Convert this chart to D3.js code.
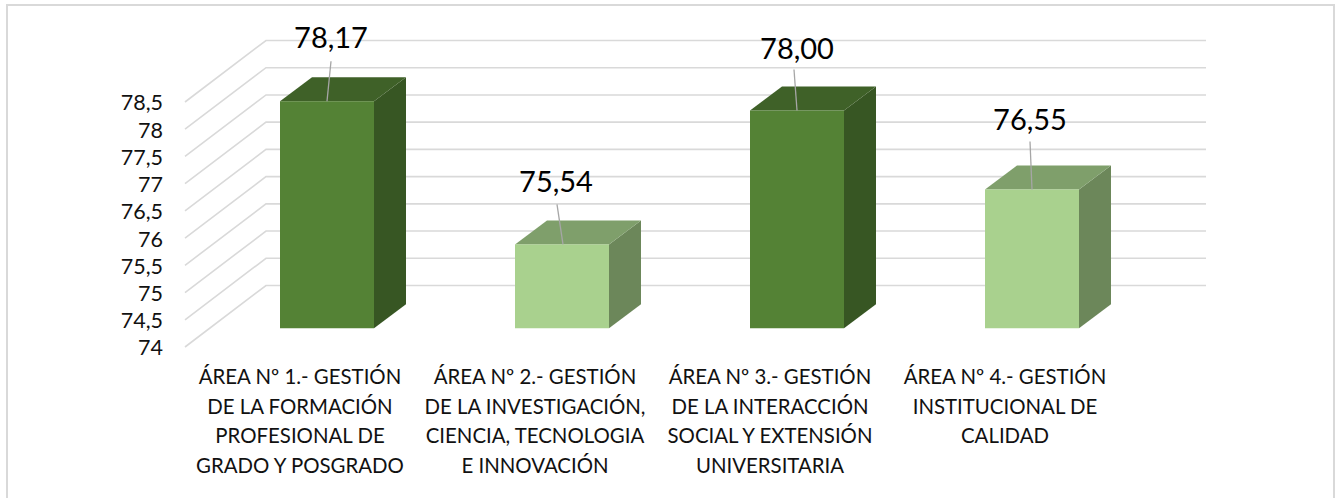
<!DOCTYPE html>
<html>
<head>
<meta charset="utf-8">
<script src="https://cdnjs.cloudflare.com/ajax/libs/d3/7.8.5/d3.min.js"></script>
<style>
  html, body { margin: 0; padding: 0; background: #fff; }
  svg { display: block; font-family: Lato, "Open Sans", sans-serif; }
  .grid { fill: none; stroke: #d9d9d9; stroke-width: 1.6; }
  .frame { fill: none; stroke: #d9d9d9; stroke-width: 2; }
  .leader { stroke: #a6a6a6; stroke-width: 1.3; }
  .val { font-size: 29px; fill: #000; text-anchor: middle; }
  .cat { font-size: 20.4px; fill: #111; text-anchor: middle; }
  .y-axis text { font-family: Lato, "Open Sans", sans-serif; font-size: 21.5px; fill: #111; }
</style>
</head>
<body>
<svg id="chart" width="1342" height="498"></svg>
<script>
// values
const categories = ['area1', 'area2', 'area3', 'area4'];
const values = [78.17, 75.54, 78.00, 76.55];
const valueLabels = ['78,17', '75,54', '78,00', '76,55'];
const seriesTone = ['dark', 'light', 'dark', 'light'];
const yTicks = [74, 74.5, 75, 75.5, 76, 76.5, 77, 77.5, 78, 78.5];
const catLines = [
  ['ÁREA Nº 1.- GESTIÓN', 'DE LA FORMACIÓN', 'PROFESIONAL DE', 'GRADO Y POSGRADO'],
  ['ÁREA Nº 2.- GESTIÓN', 'DE LA INVESTIGACIÓN,', 'CIENCIA, TECNOLOGIA', 'E INNOVACIÓN'],
  ['ÁREA Nº 3.- GESTIÓN', 'DE LA INTERACCIÓN', 'SOCIAL Y EXTENSIÓN', 'UNIVERSITARIA'],
  ['ÁREA Nº 4.- GESTIÓN', 'INSTITUCIONAL DE', 'CALIDAD']
];

// fake 3d: the floor and the bars are sheared by these offsets
const floorDx = 81, floorDy = -61.5;
const barDx = 32, barDy = -24;
const tones = {
  dark:  { front: '#548235', top: '#3f6128', side: '#375623' },
  light: { front: '#a9d18e', top: '#7f9f6b', side: '#6c875a' }
};
// manually moved data labels: leader start/end relative to bar front top-left
const leaders = [
  { x1: 47, x2: 51, y2: -40, tx: 51, ty: -53 },
  { x1: 48, x2: 42, y2: -40, tx: 41, ty: -52 },
  { x1: 47, x2: 44, y2: -41, tx: 47, ty: -51 },
  { x1: 47, x2: 45, y2: -48, tx: 45, ty: -59 }
];

const svg = d3.select('#chart');
const x = d3.scaleBand().domain(categories).range([185, 1125])
  .paddingInner(0.6).paddingOuter(0.3);
const y = d3.scaleLinear().domain([74, 78.5]).range([347, 102]);

// outer frame, bottom edge runs off the picture
svg.append('path').attr('class', 'frame').attr('d', 'M7,498V5H1334V498');

// gridlines: side wall + back wall
svg.append('g').selectAll('path.grid')
  .data(yTicks)
  .join('path')
    .attr('class', 'grid')
    .attr('d', d => `M185,${y(d)}L${185 + floorDx},${y(d) + floorDy}H${1125 + floorDx}`);

// y axis labels
const yAxis = d3.axisLeft(y).tickValues(yTicks).tickSize(0).tickPadding(22)
  .tickFormat(d => String(d).replace('.', ','));
svg.append('g').attr('class', 'y-axis').attr('transform', 'translate(185,1)').call(yAxis)
  .call(g => g.select('.domain').remove());

// bars
const rows = categories.map((c, i) => ({
  c, v: values[i], label: valueLabels[i], tone: tones[seriesTone[i]], lead: leaders[i], lines: catLines[i]
}));
const offX = (floorDx - barDx) / 2, offY = (floorDy - barDy) / 2;
const bw = x.bandwidth();

const bars = svg.append('g').selectAll('g.bar').data(rows).join('g').attr('class', 'bar')
  .attr('transform', d => `translate(${x(d.c) + offX},0)`);

bars.append('path').attr('fill', d => d.tone.side)
  .attr('d', d => `M${bw},${y(d.v) + offY}l${barDx},${barDy}V${y(74) + offY + barDy}l${-barDx},${-barDy}Z`);
bars.append('path').attr('fill', d => d.tone.top)
  .attr('d', d => `M0,${y(d.v) + offY}l${barDx},${barDy}h${bw}l${-barDx},${-barDy}Z`);
bars.append('rect').attr('fill', d => d.tone.front)
  .attr('x', 0).attr('width', bw)
  .attr('y', d => y(d.v) + offY)
  .attr('height', d => y(74) - y(d.v));

// leader lines and data labels
bars.append('line').attr('class', 'leader')
  .attr('x1', d => d.lead.x1).attr('x2', d => d.lead.x2)
  .attr('y1', d => y(d.v) + offY)
  .attr('y2', d => y(d.v) + offY + d.lead.y2);
bars.append('text').attr('class', 'val')
  .attr('x', d => d.lead.tx)
  .attr('y', d => y(d.v) + offY + d.lead.ty)
  .text(d => d.label);

// category labels
svg.append('g').selectAll('text.cat').data(rows).join('text')
  .attr('class', 'cat')
  .attr('y', 384)
  .each(function(d) {
    d3.select(this).selectAll('tspan').data(d.lines).join('tspan')
      .attr('x', x(d.c) + bw / 2 - 2.5)
      .attr('dy', (l, i) => i ? 29.7 : 0)
      .text(l => l);
  });
</script>
</body>
</html>
